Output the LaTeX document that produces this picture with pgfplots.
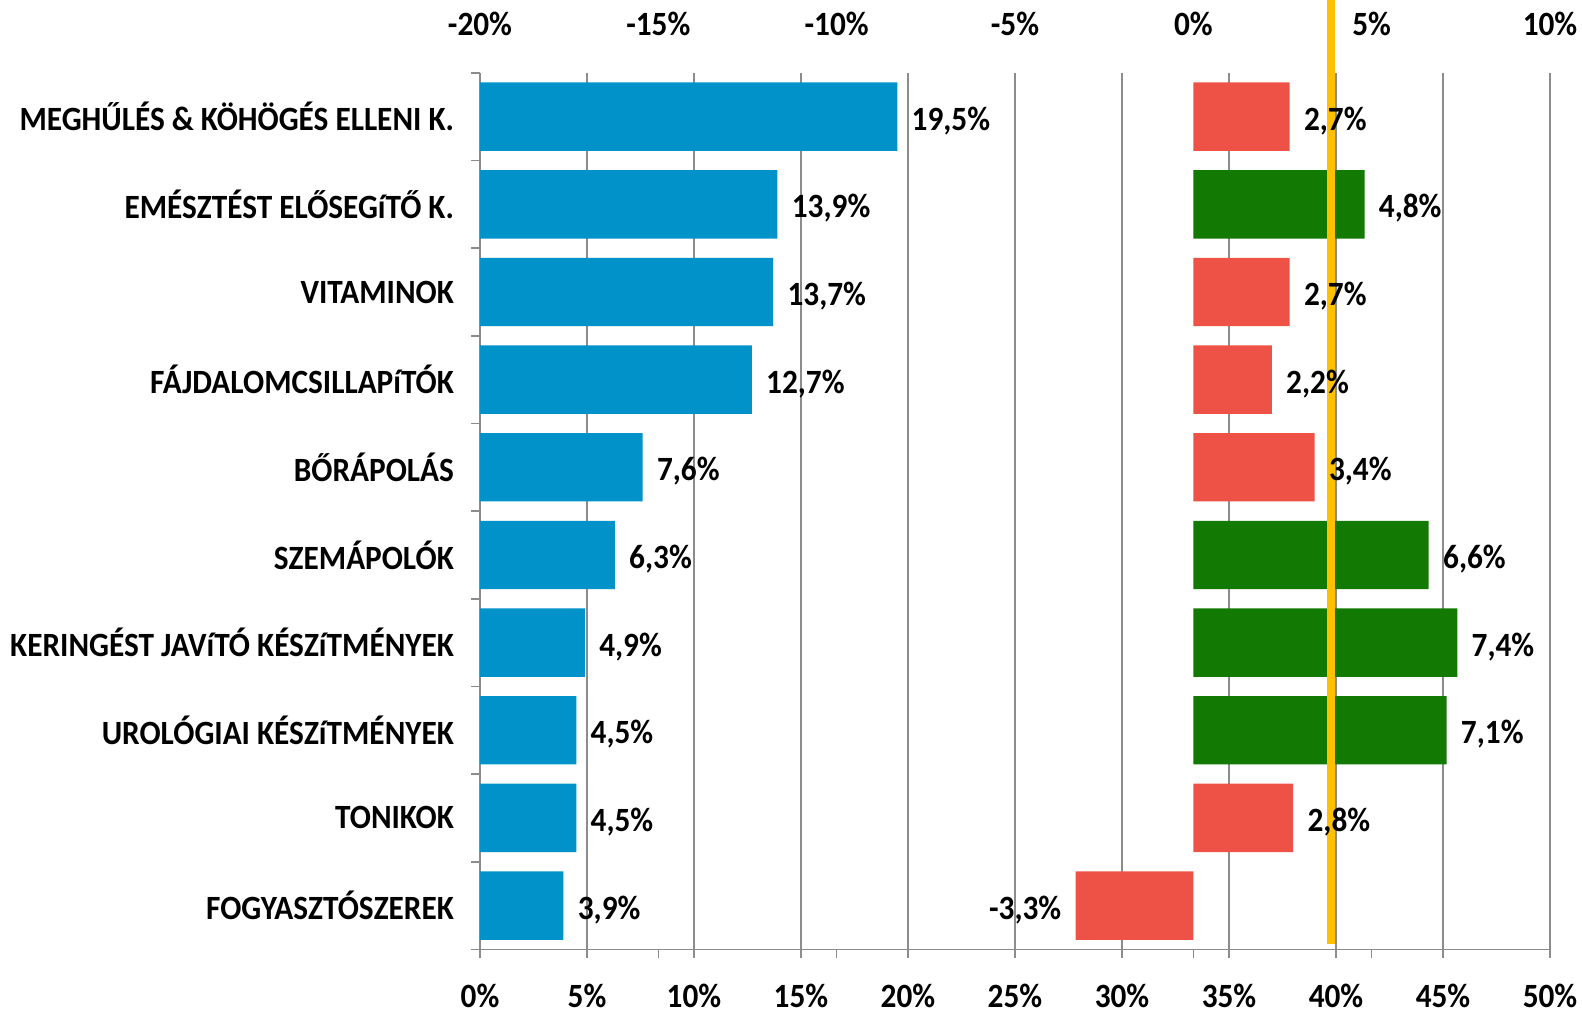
\documentclass[border=0pt]{standalone}
\usepackage{fontspec}
\setmainfont{Carlito}[FakeStretch=0.92]
\usepackage{pgfplots}
\pgfplotsset{compat=1.18}

\definecolor{barblue}{HTML}{0092C8}
\definecolor{barred}{HTML}{EE5247}
\definecolor{bargreen}{HTML}{127A03}
\definecolor{avgline}{HTML}{FFC000}
\definecolor{axisgray}{HTML}{8C8C8C}

\pgfplotsset{
  every axis/.append style={font=\bfseries\fontsize{17}{20}\selectfont},
  lbl/.style={nodes near coords={\bfseries\pgfmathprintnumber[assume math mode=true,fixed,fixed zerofill,precision=1,use comma]{\pgfplotspointmeta}\%},
    nodes near coords style={font=\bfseries\fontsize{17}{20}\selectfont, inner xsep=7pt, yshift=-2pt}},
}

\begin{document}
\begin{tikzpicture}
\useasboundingbox (-240pt,-32.3pt) rectangle (551pt,474.7pt);

% bottom axis: share, 0-50%
\begin{axis}[
  at={(0,0)}, anchor=south west,
  scale only axis, width=535pt, height=438.3pt,
  xmin=0, xmax=50, ymin=-0.5, ymax=9.5, y dir=reverse,
  axis x line*=bottom, axis y line*=left,
  axis line style={draw=axisgray, line width=0.8pt},
  tick align=outside,
  xtick={0,5,...,50},
  xticklabels={0\%,5\%,10\%,15\%,20\%,25\%,30\%,35\%,40\%,45\%,50\%},
  extra x ticks={8.3333,16.6667,33.3333,41.6667},
  extra x tick labels={},
  extra x tick style={grid=none},
  xmajorgrids, grid style={axisgray, line width=0.8pt},
  major x tick style={draw=axisgray, line width=0.8pt},
  major tick length=4.5pt,
  xticklabel style={yshift=-9.5pt},
  ytick={0,...,9},
  yticklabels={MEGHŰLÉS \& KÖHÖGÉS ELLENI K., EMÉSZTÉST ELŐSEGíTŐ K., VITAMINOK, FÁJDALOMCSILLAPíTÓK, BŐRÁPOLÁS, SZEMÁPOLÓK, KERINGÉST JAVíTÓ KÉSZíTMÉNYEK, UROLÓGIAI KÉSZíTMÉNYEK, TONIKOK, FOGYASZTÓSZEREK},
  major y tick style={draw=none},
  minor ytick={-0.5,0.5,...,9.5},
  minor y tick style={draw=axisgray, line width=0.8pt},
  minor tick length=4.5pt,
  yticklabel style={xshift=-5pt},
]
\addplot[xbar, bar width=0.78, bar shift=0pt, fill=barblue, draw=none, lbl] coordinates
  {(19.5,0) (13.9,1) (13.7,2) (12.7,3) (7.6,4) (6.3,5) (4.9,6) (4.5,7) (4.5,8) (3.9,9)};
\end{axis}

% top axis: change, -20..10%
\begin{axis}[
  at={(0,0)}, anchor=south west,
  scale only axis, width=535pt, height=438.3pt,
  xmin=-20, xmax=10, ymin=-0.5, ymax=9.5, y dir=reverse,
  axis x line*=top, axis y line=none,
  x axis line style={draw=none},
  xtick={-20,-15,...,10},
  xticklabels={-20\%,-15\%,-10\%,-5\%,0\%,5\%,10\%},
  major x tick style={draw=none},
  xticklabel style={yshift=15pt},
  clip=false,
]
\addplot[xbar, bar width=0.78, bar shift=0pt, fill=barred, draw=none, lbl] coordinates
  {(2.7,0) (2.7,2) (2.2,3) (3.4,4) (2.8,8) (-3.3,9)};
\addplot[xbar, bar width=0.78, bar shift=0pt, fill=bargreen, draw=none, lbl] coordinates
  {(4.8,1) (6.6,5) (7.4,6) (7.1,7)};
\addplot[avgline, line width=4pt, no markers] coordinates {(3.85,-1.4) (3.85,9.44)};
\end{axis}
\end{tikzpicture}
\end{document}
